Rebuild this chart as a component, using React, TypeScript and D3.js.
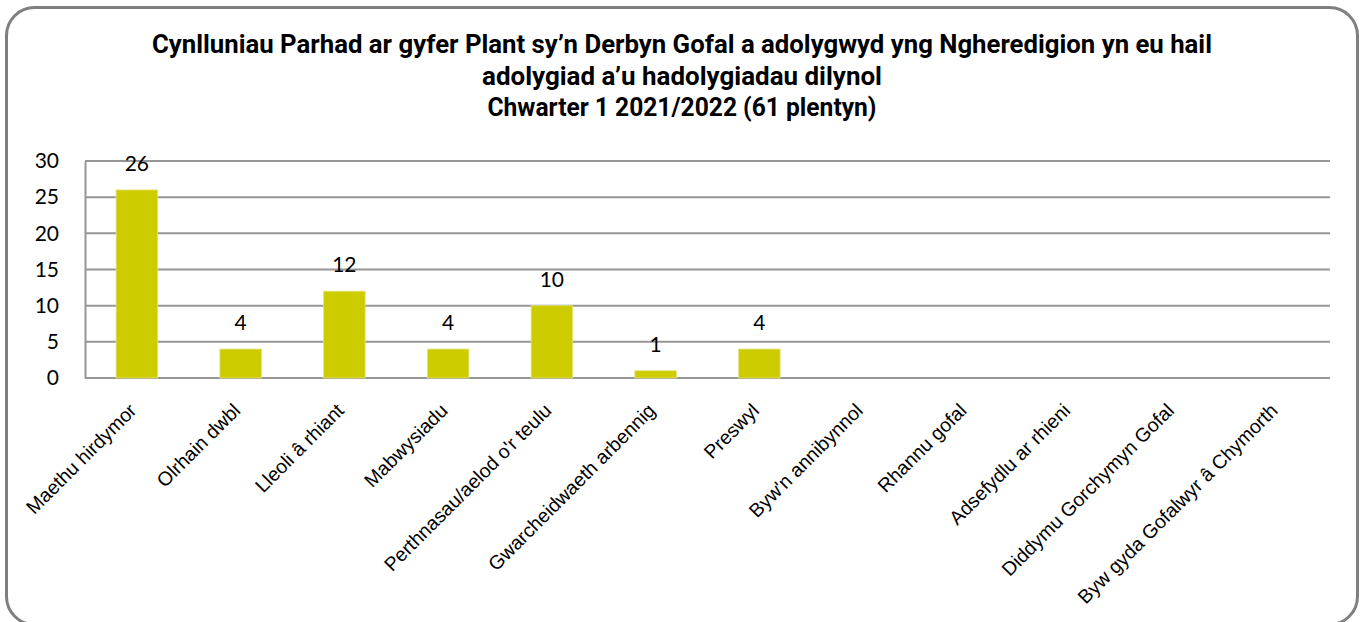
import { useEffect, useRef } from "react";
import { select, scaleBand, scaleLinear, axisLeft } from "d3";

const categories = [
    "Maethu hirdymor",
    "Olrhain dwbl",
    "Lleoli â rhiant",
    "Mabwysiadu",
    "Perthnasau/aelod o'r teulu",
    "Gwarcheidwaeth arbennig",
    "Preswyl",
    "Byw'n annibynnol",
    "Rhannu gofal",
    "Adsefydlu ar rhieni",
    "Diddymu Gorchymyn Gofal",
    "Byw gyda Gofalwyr â Chymorth",
];
const values: (number | null)[] = [26, 4, 12, 4, 10, 1, 4, null, null, null, null, null];
const yTicks = [0, 5, 10, 15, 20, 25, 30];
const titleLines = [
    "Cynlluniau Parhad ar gyfer Plant sy’n Derbyn Gofal a adolygwyd yng Ngheredigion yn eu hail",
    "adolygiad a’u hadolygiadau dilynol",
    "Chwarter 1 2021/2022 (61 plentyn)",
];

function App() {
    const svgRef = useRef<SVGSVGElement>(null);

    useEffect(() => {
        const Width = 1363;
        const Height = 622;
        const Margin = { top: 161, right: 33, bottom: 244, left: 85 };
        const innerWidth = Width - Margin.left - Margin.right;
        const innerHeight = Height - Margin.top - Margin.bottom;

        const svg = select(svgRef.current).attr("width", Width).attr("height", Height);
        svg.selectAll("*").remove();

        // outer frame (bottom edge runs just past the picture)
        svg.append("rect")
            .attr("x", 6.5)
            .attr("y", 7.5)
            .attr("width", 1351)
            .attr("height", 617)
            .attr("rx", 28)
            .style("fill", "#ffffff")
            .style("stroke", "#7f7f7f")
            .style("stroke-width", 3);

        // title
        const titleWidths = [1060, 400, 389];
        svg.append("g")
            .selectAll("text")
            .data(titleLines)
            .join("text")
            .attr("x", 682)
            .attr("y", (d, i) => 53 + i * 31.5)
            .attr("text-anchor", "middle")
            .attr("textLength", (d, i) => titleWidths[i])
            .attr("lengthAdjust", "spacingAndGlyphs")
            .style("font-family", "Roboto, 'Liberation Sans', sans-serif")
            .style("font-weight", "bold")
            .style("font-size", "25px")
            .style("fill", "#000")
            .text((d) => d);

        const xScale = scaleBand()
            .domain(categories)
            .range([Margin.left, Margin.left + innerWidth])
            .paddingInner(0.6)
            .paddingOuter(0.3);

        const yScale = scaleLinear()
            .domain([0, 30])
            .range([Margin.top + innerHeight, Margin.top]);

        // grid lines
        svg.append("g")
            .selectAll("line")
            .data(yTicks)
            .join("line")
            .attr("x1", Margin.left)
            .attr("x2", Margin.left + innerWidth)
            .attr("y1", (d) => yScale(d))
            .attr("y2", (d) => yScale(d))
            .style("stroke", "#969696")
            .style("stroke-width", 2);

        // y axis
        const yAxis = axisLeft(yScale).tickValues(yTicks).tickSize(0).tickPadding(26);
        const yG = svg.append("g")
            .attr("transform", "translate(" + Margin.left + ",0)")
            .call(yAxis);
        yG.select(".domain").style("stroke", "#969696").style("stroke-width", 2);
        yG.selectAll("text")
            .style("font-family", "Lato, 'Open Sans', sans-serif")
            .style("font-size", "21px")
            .style("fill", "#000");

        const barData = categories.map((c, i) => ({ c, v: values[i] }));

        // bars
        svg.append("g")
            .selectAll("rect")
            .data(barData.filter((d) => d.v !== null))
            .join("rect")
            .attr("x", (d) => xScale(d.c)!)
            .attr("width", xScale.bandwidth())
            .attr("y", (d) => yScale(d.v as number))
            .attr("height", (d) => yScale(0) - yScale(d.v as number))
            .style("fill", "#cccc00")
            .style("stroke", "#e3e37a")
            .style("stroke-width", 0.8);

        // data labels
        svg.append("g")
            .selectAll("text")
            .data(barData.filter((d) => d.v !== null))
            .join("text")
            .attr("x", (d) => xScale(d.c)! + xScale.bandwidth() / 2)
            .attr("y", (d) => yScale(d.v as number) - 19)
            .attr("text-anchor", "middle")
            .style("font-family", "Lato, 'Open Sans', sans-serif")
            .style("font-size", "21px")
            .style("fill", "#000")
            .text((d) => d.v as number);

        // category labels
        svg.append("g")
            .selectAll("text")
            .data(categories)
            .join("text")
            .attr("transform", (d) =>
                "translate(" + (xScale(d)! + xScale.bandwidth() / 2 - 4) + "," + (Margin.top + innerHeight + 29) + ") rotate(-45)")
            .attr("text-anchor", "end")
            .attr("dy", "0.35em")
            .style("font-family", "'Liberation Sans', Arial, sans-serif")
            .style("font-size", "19.5px")
            .style("fill", "#000")
            .text((d) => d);
    }, []);

    return (
        <div>
            <svg ref={svgRef} style={{ position: "absolute", left: 0, top: 0 }}></svg>
        </div>
    );
}

export default App;
